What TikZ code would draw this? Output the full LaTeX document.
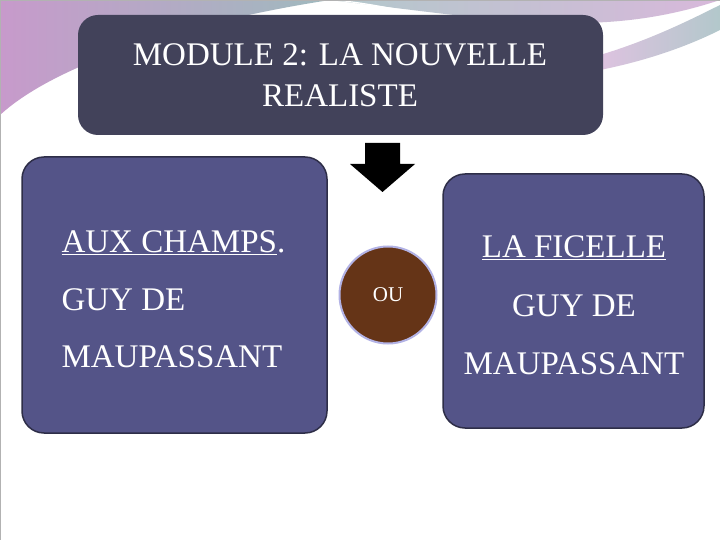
\documentclass[tikz,border=0pt]{standalone}
\usepackage{fontspec}
\setmainfont{Liberation Serif}
\definecolor{topbox}{HTML}{42425A}
\definecolor{sidebox}{HTML}{545488}
\definecolor{sideedge}{HTML}{2E2E48}
\definecolor{brownc}{HTML}{653417}
\definecolor{teal}{HTML}{9FBABE}
\definecolor{pinkc}{HTML}{C79ACB}
\tikzset{
  panel/.style={rounded corners=22pt, fill=sidebox, draw=sideedge, line width=1.5pt},
  lbl/.style={text=white, font=\fontsize{33}{35}\selectfont},
}
\begin{document}
\begin{tikzpicture}[x=1pt,y=-1pt]
\useasboundingbox (0,0) rectangle (720,540);
\fill[white] (0,0) rectangle (720,540);
% decorative swoosh
\shade[left color=pinkc, right color=teal] (0,0) -- (330,0) .. controls (200,20) and (60,60) .. (0,115) -- cycle;
\shade[left color=teal!80, right color=pinkc!70] (330,0) .. controls (500,20) and (600,40) .. (720,0) -- cycle;
\fill[white] (330,0) .. controls (380,5) and (420,15) .. (470,28) .. controls (420,12) and (370,3) .. (340,0) -- cycle;
\shade[left color=pinkc!60, right color=teal!80] (600,55) .. controls (650,40) and (690,20) .. (720,5) -- (720,30) .. controls (690,45) and (650,60) .. (600,70) -- cycle;
\draw[gray!60] (0,0) rectangle (720,540);
% top box
\node[draw=none, fill=topbox, rounded corners=20pt, minimum width=525pt, minimum height=120pt] (top) at (340.5,75) {};
\node[text=white, align=center, font=\fontsize{33}{41}\selectfont] (toptext) at (340,75) {MODULE 2: LA NOUVELLE\\REALISTE};
% arrow
\fill[black] (365,143) -- (400,143) -- (400,164) -- (415,164) -- (382.5,192) -- (350,164) -- (365,164) -- cycle;
\coordinate (arr) at (382.5,168);
% panels
\node[panel, minimum width=305pt, minimum height=276pt] (left) at (174.5,295) {};
\node[panel, minimum width=261pt, minimum height=254pt] (right) at (573.5,301) {};
\node[circle, fill=brownc, draw=gray!50!blue!40, line width=2pt, minimum size=97pt] (ou) at (388,295) {};
\node[text=white, font=\fontsize{21}{22}\selectfont] (outext) at (388,295) {OU};
% left text
\node[lbl, anchor=west] (l1) at (58,243) {\underline{AUX CHAMPS}.};
\node[lbl, anchor=west] (l2) at (58,300) {GUY DE};
\node[lbl, anchor=west] (l3) at (58,357) {MAUPASSANT};
% right text
\node[lbl] (r1) at (574,248) {\underline{LA FICELLE}};
\node[lbl] (r2) at (574,306) {GUY DE};
\node[lbl] (r3) at (574,364) {MAUPASSANT};
\end{tikzpicture}
\end{document}
